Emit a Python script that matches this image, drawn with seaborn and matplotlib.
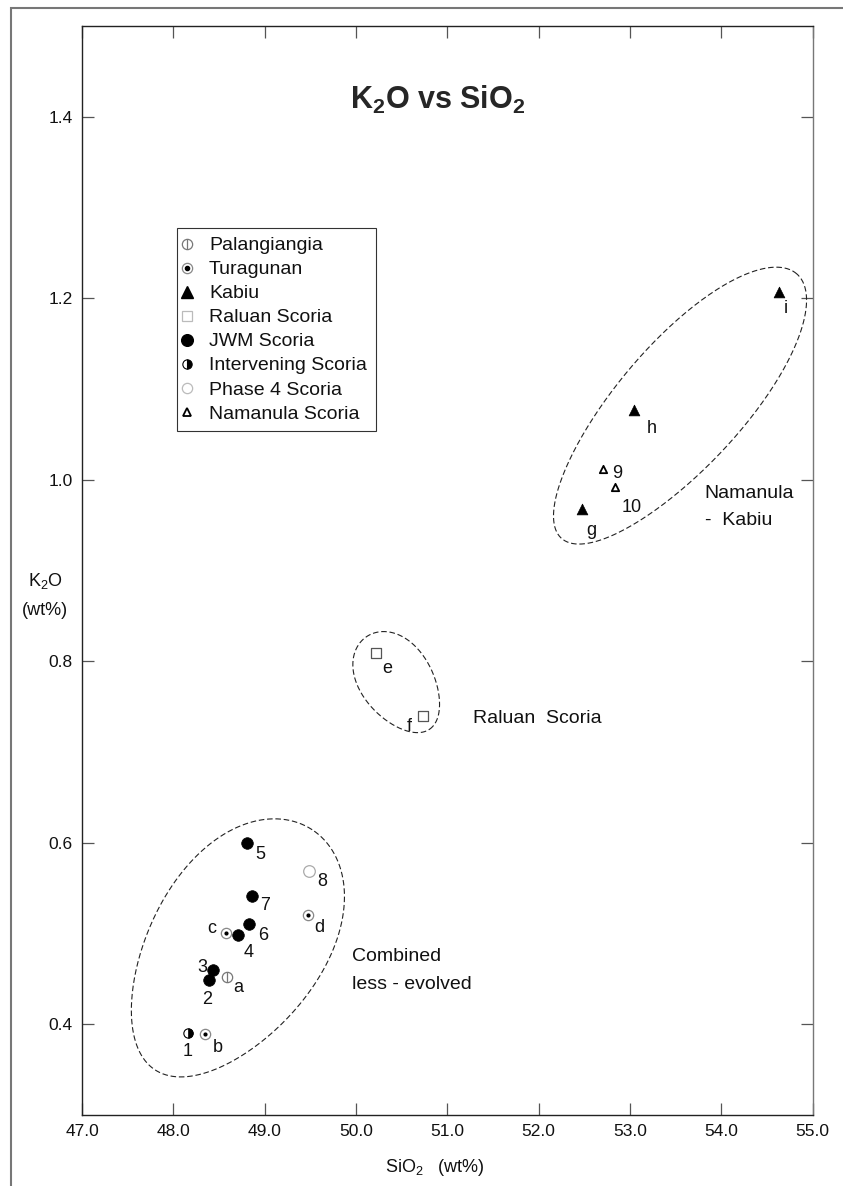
import numpy as np
import pandas as pd
import matplotlib
matplotlib.use("Agg")
import matplotlib.pyplot as plt
from matplotlib.markers import MarkerStyle
from matplotlib.lines import Line2D
from matplotlib.patches import Rectangle
import seaborn as sns

# K2O vs SiO2 (wt%) , one small list per unit
palang_sio2 = [48.59]
palang_k2o = [0.452]
palang_lab = ["a"]

tura_sio2 = [48.35, 48.58, 49.47]
tura_k2o = [0.389, 0.500, 0.520]
tura_lab = ["b", "c", "d"]

kabiu_sio2 = [52.47, 53.05, 54.63]
kabiu_k2o = [0.968, 1.077, 1.207]
kabiu_lab = ["g", "h", "i"]

raluan_sio2 = [50.22, 50.73]
raluan_k2o = [0.809, 0.740]
raluan_lab = ["e", "f"]

jwm_sio2 = [48.39, 48.43, 48.71, 48.81, 48.83, 48.86]
jwm_k2o = [0.449, 0.460, 0.498, 0.600, 0.510, 0.541]
jwm_lab = ["2", "3", "4", "5", "6", "7"]

interv_sio2 = [48.16]
interv_k2o = [0.390]
interv_lab = ["1"]

phase4_sio2 = [49.49]
phase4_k2o = [0.569]
phase4_lab = ["8"]

naman_sio2 = [52.70, 52.84]
naman_k2o = [1.012, 0.992]
naman_lab = ["9", "10"]

legend_names = ["Palangiangia", "Turagunan", "Kabiu", "Raluan Scoria",
                "JWM Scoria", "Intervening Scoria", "Phase 4 Scoria",
                "Namanula Scoria"]

xticks = [47.0, 48.0, 49.0, 50.0, 51.0, 52.0, 53.0, 54.0, 55.0]
yticks = [0.4, 0.6, 0.8, 1.0, 1.2, 1.4]

sns.set_style("ticks")
plt.rcParams["font.family"] = ["Liberation Sans", "DejaVu Sans"]

fig = plt.figure(figsize=(8.43, 11.86), dpi=100)
ax = fig.add_axes([0.0973, 0.0599, 0.8666, 0.9182])
ax.set_xlim(47, 55)
ax.set_ylim(0.3, 1.5)

# outer frame of the page
fig.add_artist(Rectangle((11 / 843, -0.05), 1.0, 0.99325 + 0.05,
                         transform=fig.transFigure, fill=False,
                         edgecolor="#777777", lw=1.5))

def df(x, y, lab):
    return pd.DataFrame({"SiO2": x, "K2O": y, "lab": lab})

d_pal = df(palang_sio2, palang_k2o, palang_lab)
d_tur = df(tura_sio2, tura_k2o, tura_lab)
d_kab = df(kabiu_sio2, kabiu_k2o, kabiu_lab)
d_ral = df(raluan_sio2, raluan_k2o, raluan_lab)
d_jwm = df(jwm_sio2, jwm_k2o, jwm_lab)
d_int = df(interv_sio2, interv_k2o, interv_lab)
d_ph4 = df(phase4_sio2, phase4_k2o, phase4_lab)
d_nam = df(naman_sio2, naman_k2o, naman_lab)

kw = dict(x="SiO2", y="K2O", ax=ax, legend=False, zorder=3)
# Palangiangia: open circle with vertical bar
sns.scatterplot(data=d_pal, marker="o", s=55, facecolor="white", edgecolor="#777777", linewidth=0.9, **kw)
sns.scatterplot(data=d_pal, marker="|", s=50, color="#777777", linewidth=0.9, **kw)
# Turagunan: ring with black dot
sns.scatterplot(data=d_tur, marker="o", s=55, facecolor="white", edgecolor="#888888", linewidth=0.9, **kw)
sns.scatterplot(data=d_tur, marker="o", s=9, color="black", edgecolor="black", linewidth=0, **kw)
# Kabiu
sns.scatterplot(data=d_kab, marker="^", s=60, color="black", edgecolor="black", linewidth=0.5, **kw)
# Raluan
sns.scatterplot(data=d_ral, marker="s", s=55, facecolor="white", edgecolor="#555555", linewidth=0.9, **kw)
# JWM
sns.scatterplot(data=d_jwm, marker="o", s=70, color="black", edgecolor="black", linewidth=0.5, **kw)
# Intervening: half filled
sns.scatterplot(data=d_int, marker="o", s=45, facecolor="white", edgecolor="black", linewidth=0.8, **kw)
sns.scatterplot(data=d_int, marker=MarkerStyle("o", fillstyle="right"), s=45, color="black", edgecolor="black", linewidth=0.5, **kw)
# Phase 4
sns.scatterplot(data=d_ph4, marker="o", s=70, facecolor="white", edgecolor="#aaaaaa", linewidth=0.9, **kw)
# Namanula
sns.scatterplot(data=d_nam, marker="^", s=28, facecolor="white", edgecolor="black", linewidth=1.3, **kw)

# sample labels, offsets in pixels (right, up)
lab_off = {"1": (0, -18), "b": (12, -13), "2": (-2, -20), "3": (-10, 2),
           "a": (11, -10), "c": (-15, 5), "4": (10, -17), "6": (14, -11),
           "7": (13, -9), "5": (13, -12), "8": (13, -11), "d": (12, -12),
           "e": (11, -15), "f": (-13, -11), "g": (10, -22), "h": (17, -19),
           "i": (7, -17), "9": (15, -5), "10": (16, -21)}
for d in [d_pal, d_tur, d_kab, d_ral, d_jwm, d_int, d_ph4, d_nam]:
    for _, r in d.iterrows():
        dx, dy = lab_off[r["lab"]]
        ax.annotate(r["lab"], (r["SiO2"], r["K2O"]), xytext=(dx * 0.72, dy * 0.72),
                    textcoords="offset points", ha="center", va="center",
                    fontsize=13, color="#111111")

# dashed group outlines (centre in data, radii in pixels, egg = end bias)
sx = 843 * 0.8666 / 8.0
sy = 1186 * 0.9182 / 1.2
def loop(cx, cy, a, b, ang, egg=0.0):
    t = np.linspace(0, 2 * np.pi, 300)
    th = np.radians(ang)
    u, v = a * np.cos(t), b * np.sin(t) * (1 + egg * np.cos(t))
    px = u * np.cos(th) - v * np.sin(th)
    py = u * np.sin(th) + v * np.cos(th)
    ax.plot(cx + px / sx, cy + py / sy, ls=(0, (5, 2.5)), lw=0.8, color="#222222", zorder=2)

loop(48.66, 0.482, 143.5, 86, 56.8, egg=0.12)
loop(50.46, 0.776, 56, 36, -55.7, egg=-0.12)
loop(53.54, 1.081, 177, 62, 48.3, egg=0.05)

txt = dict(fontsize=14, color="#111111", va="center", ha="left")
ax.text(53.82, 0.985, "Namanula", **txt)
ax.text(53.82, 0.955, "-  Kabiu", **txt)
ax.text(51.28, 0.737, "Raluan  Scoria", **txt)
ax.text(49.96, 0.475, "Combined", **txt)
ax.text(49.96, 0.444, "less - evolved", **txt)

# axes styling
ax.set_xticks(xticks)
ax.set_xticklabels(["%.1f" % v for v in xticks])
ax.set_yticks(yticks)
ax.set_yticklabels(["%.1f" % v for v in yticks])
ax.tick_params(direction="in", length=8.6, width=0.9, color="#555555",
               top=True, right=True, labelsize=12.5, pad=6.5, labelcolor="#111111")
for s in ax.spines.values():
    s.set_visible(True)
    s.set_linewidth(1.0)
    s.set_color("#222222")
ax.spines["right"].set_color("#777777")

ax.set_xlabel("SiO$_\\mathregular{2}$   (wt%)", fontsize=13, color="#111111")
ax.xaxis.set_label_coords(0.483, -0.0478)
ax.xaxis.label.set_va("center")
ax.set_ylabel("K$_\\mathregular{2}$O\n(wt%)", fontsize=13, rotation=0,
              color="#111111", linespacing=1.9, ha="center", va="center")
ax.yaxis.set_label_coords(-0.0507, 0.4775)

fig.text(438 / 843, 1 - 100 / 1186, "K$_\\mathregular{2}$O vs SiO$_\\mathregular{2}$",
         ha="center", va="center", fontsize=22, fontweight="bold")

# legend with composite markers
ms = 7.4
h_pal = (Line2D([], [], ls="none", marker="o", ms=ms, mfc="white", mec="#777777", mew=0.9),
         Line2D([], [], ls="none", marker="|", ms=ms, color="#777777", mew=0.9))
h_tur = (Line2D([], [], ls="none", marker="o", ms=ms, mfc="white", mec="#888888", mew=0.9),
         Line2D([], [], ls="none", marker="o", ms=3, mfc="black", mec="black"))
h_kab = Line2D([], [], ls="none", marker="^", ms=8, mfc="black", mec="black")
h_ral = Line2D([], [], ls="none", marker="s", ms=ms, mfc="white", mec="#bbbbbb", mew=0.9)
h_jwm = Line2D([], [], ls="none", marker="o", ms=8.4, mfc="black", mec="black")
h_int = Line2D([], [], ls="none", marker="o", ms=6.7, fillstyle="right", mfc="black",
               mfcalt="white", mec="black", mew=0.8)
h_ph4 = Line2D([], [], ls="none", marker="o", ms=ms, mfc="white", mec="#bbbbbb", mew=0.9)
h_nam = Line2D([], [], ls="none", marker="^", ms=5.3, mfc="white", mec="black", mew=1.3)
leg = ax.legend([h_pal, h_tur, h_kab, h_ral, h_jwm, h_int, h_ph4, h_nam], legend_names,
                loc="upper left", bbox_to_anchor=(177 / 843, 1 - 228 / 1186),
                bbox_transform=fig.transFigure, borderaxespad=0, fancybox=False,
                frameon=True, edgecolor="black", fontsize=14, labelspacing=0.33,
                borderpad=0.45, handlelength=0.15, handletextpad=1.05)
leg.get_frame().set_linewidth(0.8)
for t in leg.get_texts():
    t.set_color("#111111")

fig.savefig("out.png", dpi=100)
